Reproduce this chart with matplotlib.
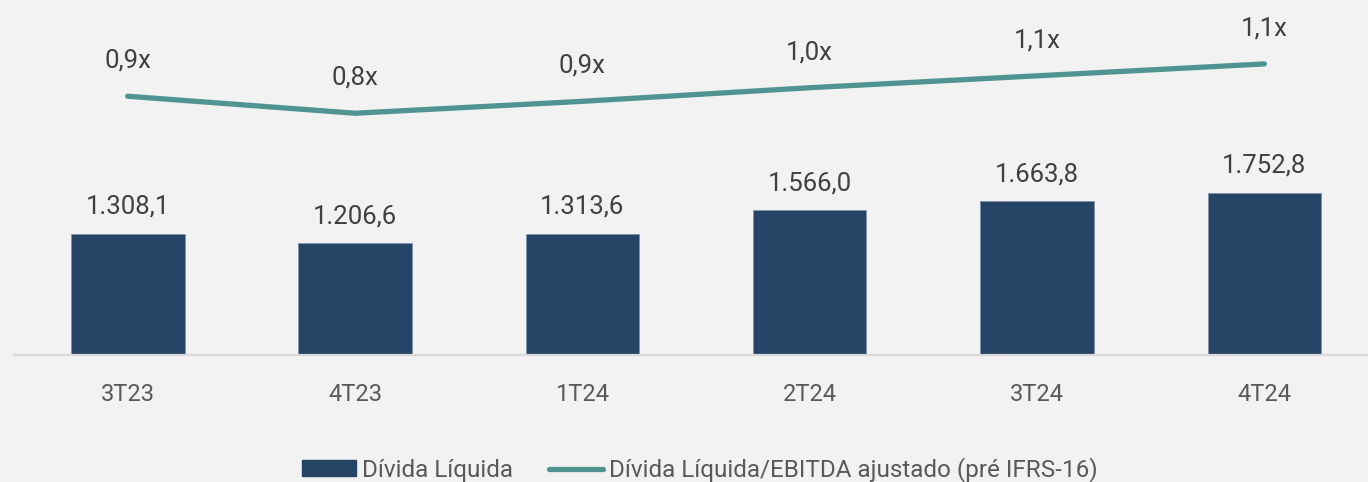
import matplotlib
matplotlib.use("Agg")
import matplotlib.pyplot as plt
from matplotlib.patches import Patch
from matplotlib.lines import Line2D

categories = ["3T23", "4T23", "1T24", "2T24", "3T24", "4T24"]
divida_liquida = [1308.1, 1206.6, 1313.6, 1566.0, 1663.8, 1752.8]
alavancagem = [0.94, 0.84, 0.91, 0.99, 1.06, 1.13]

bar_label = "Dívida Líquida"
line_label = "Dívida Líquida/EBITDA ajustado (pré IFRS-16)"

BG = "#f2f2f2"
BAR = "#264466"
LINE = "#509492"
TXT = "#404040"
TICK = "#595959"

plt.rcParams['font.family'] = ['Roboto', 'DejaVu Sans']

W, H = 1368, 482
fig = plt.figure(figsize=(W / 100, H / 100), dpi=100, facecolor=BG)
ax = fig.add_axes([14 / W, (H - 355) / H, 1364 / W, 355 / H])
ax.set_facecolor(BG)

x = list(range(len(categories)))
ax.bar(x, divida_liquida, width=0.5, color=BAR, edgecolor="#7f93ab", linewidth=0.6, zorder=2)
ax.set_xlim(-0.5, len(categories) - 0.5)
ax.set_ylim(0, 3840)
for xi, v in zip(x, divida_liquida):
    s = f"{v:,.1f}".replace(",", "X").replace(".", ",").replace("X", ".")
    ax.annotate(s, (xi, v), xytext=(0, 19.5), textcoords="offset points",
                ha="center", va="center", fontsize=18.5, color=TXT)

ax.set_xticks(x)
ax.set_xticklabels(categories, fontsize=17, color=TICK)
ax.tick_params(axis="x", length=0, pad=20)
ax.set_yticks([])
for sp in ["top", "right", "left"]:
    ax.spines[sp].set_visible(False)
ax.spines["bottom"].set_color("#d9d9d9")
ax.spines["bottom"].set_linewidth(1.6)

ax2 = ax.twinx()
ax2.set_ylim(-0.582, 1.506)
ax2.plot(x, alavancagem, color=LINE, linewidth=3.8, solid_capstyle="round",
         solid_joinstyle="round", zorder=3)
for xi, v in zip(x, alavancagem):
    s = f"{v:.1f}".replace(".", ",") + "x"
    ax2.annotate(s, (xi, v), xytext=(0, 25.5), textcoords="offset points",
                 ha="center", va="center", fontsize=18.5, color=TXT)
ax2.set_yticks([])
for sp in ["top", "right", "left", "bottom"]:
    ax2.spines[sp].set_visible(False)

handles = [Patch(facecolor=BAR, edgecolor=BAR),
           Line2D([0], [0], color=LINE, linewidth=3.8, solid_capstyle="round")]
leg = fig.legend(handles, [bar_label, line_label], loc="center",
                 bbox_to_anchor=(700 / W, (H - 470) / H), ncol=2, frameon=False,
                 fontsize=17.5, handlelength=2.2, handleheight=0.65,
                 handletextpad=0.25, columnspacing=1.5, borderaxespad=0)
for t in leg.get_texts():
    t.set_color(TICK)

fig.savefig("out.png", dpi=100, facecolor=BG)
